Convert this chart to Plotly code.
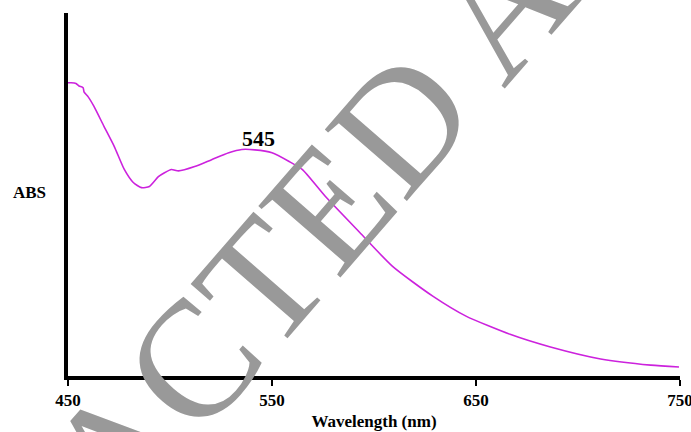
import plotly.graph_objects as go

# Absorbance spectrum (arbitrary absorbance units)
wavelength_nm = [450, 451.5, 453.9, 455.4, 457.4, 457.9, 459.9, 462.8, 467.7, 472.7,
                 477.6, 482.0, 486.0, 489.9, 494.3, 497.3, 500.7, 504.2, 512.1, 520.4,
                 528.8, 535.2, 541.6, 550.0, 558.4, 564.8, 576.1, 592.9, 609.1, 628.8,
                 645.1, 666.7, 686.5, 711.1, 735.7, 749.5]
absorbance = [0.808, 0.808, 0.806, 0.799, 0.794, 0.782, 0.769, 0.742, 0.687, 0.632,
              0.569, 0.533, 0.519, 0.522, 0.549, 0.560, 0.569, 0.565, 0.577, 0.596,
              0.615, 0.624, 0.623, 0.615, 0.591, 0.569, 0.495, 0.396, 0.302, 0.220,
              0.165, 0.115, 0.080, 0.047, 0.030, 0.025]

x_ticks = [450, 550, 650, 750]
peak_label = "545"
peak_wavelength = 545
peak_value = 0.624

serif = "Liberation Serif, Times New Roman, serif"

fig = go.Figure()
fig.add_trace(go.Scatter(
    x=wavelength_nm, y=absorbance, mode="lines",
    line=dict(color="#CC22DD", width=1.6, shape="spline", smoothing=0.6),
    showlegend=False, hoverinfo="skip"))

fig.update_layout(
    width=705, height=441,
    margin=dict(l=68, r=14, t=13, b=56),
    paper_bgcolor="white", plot_bgcolor="white",
    font=dict(family=serif, color="black"),
    xaxis=dict(range=[450, 750], tickvals=x_ticks, ticktext=[str(t) for t in x_ticks],
               showgrid=False, zeroline=False, showline=True, linecolor="black",
               linewidth=3.5, ticks="outside", ticklen=6, tickwidth=2, tickcolor="black",
               tickfont=dict(family=serif, size=17, color="black", weight="bold"),
               title=dict(text="Wavelength (nm)", standoff=7,
                          font=dict(family=serif, size=17, color="black", weight="bold"))),
    yaxis=dict(range=[0, 1], showgrid=False, zeroline=False, showline=True,
               linecolor="black", linewidth=4, showticklabels=False, ticks=""),
)

fig.add_annotation(x=peak_wavelength, y=peak_value, xref="x", yref="y",
                   text="<b>" + peak_label + "</b>", showarrow=False,
                   yanchor="bottom", yshift=-4, xshift=-3,
                   font=dict(family=serif, size=22, color="black"))

fig.add_annotation(x=0, y=0.505, xref="paper", yref="paper", text="<b>ABS</b>",
                   showarrow=False, xanchor="right", xshift=-20,
                   font=dict(family=serif, size=17, color="black"))

# Watermark
fig.add_annotation(x=0.472, y=0.560, xref="paper", yref="paper",
                   text="RETRACTED ARTICLE", showarrow=False, textangle=-49,
                   xanchor="center", yanchor="middle",
                   font=dict(family=serif, size=166, color="#999999"))

post = """
var s = document.createElement('style');
s.textContent = 'html,body{margin:0;padding:0;overflow:hidden;}';
document.head.appendChild(s);
"""

fig.write_html("out.html", config={"displayModeBar": False}, post_script=post)
